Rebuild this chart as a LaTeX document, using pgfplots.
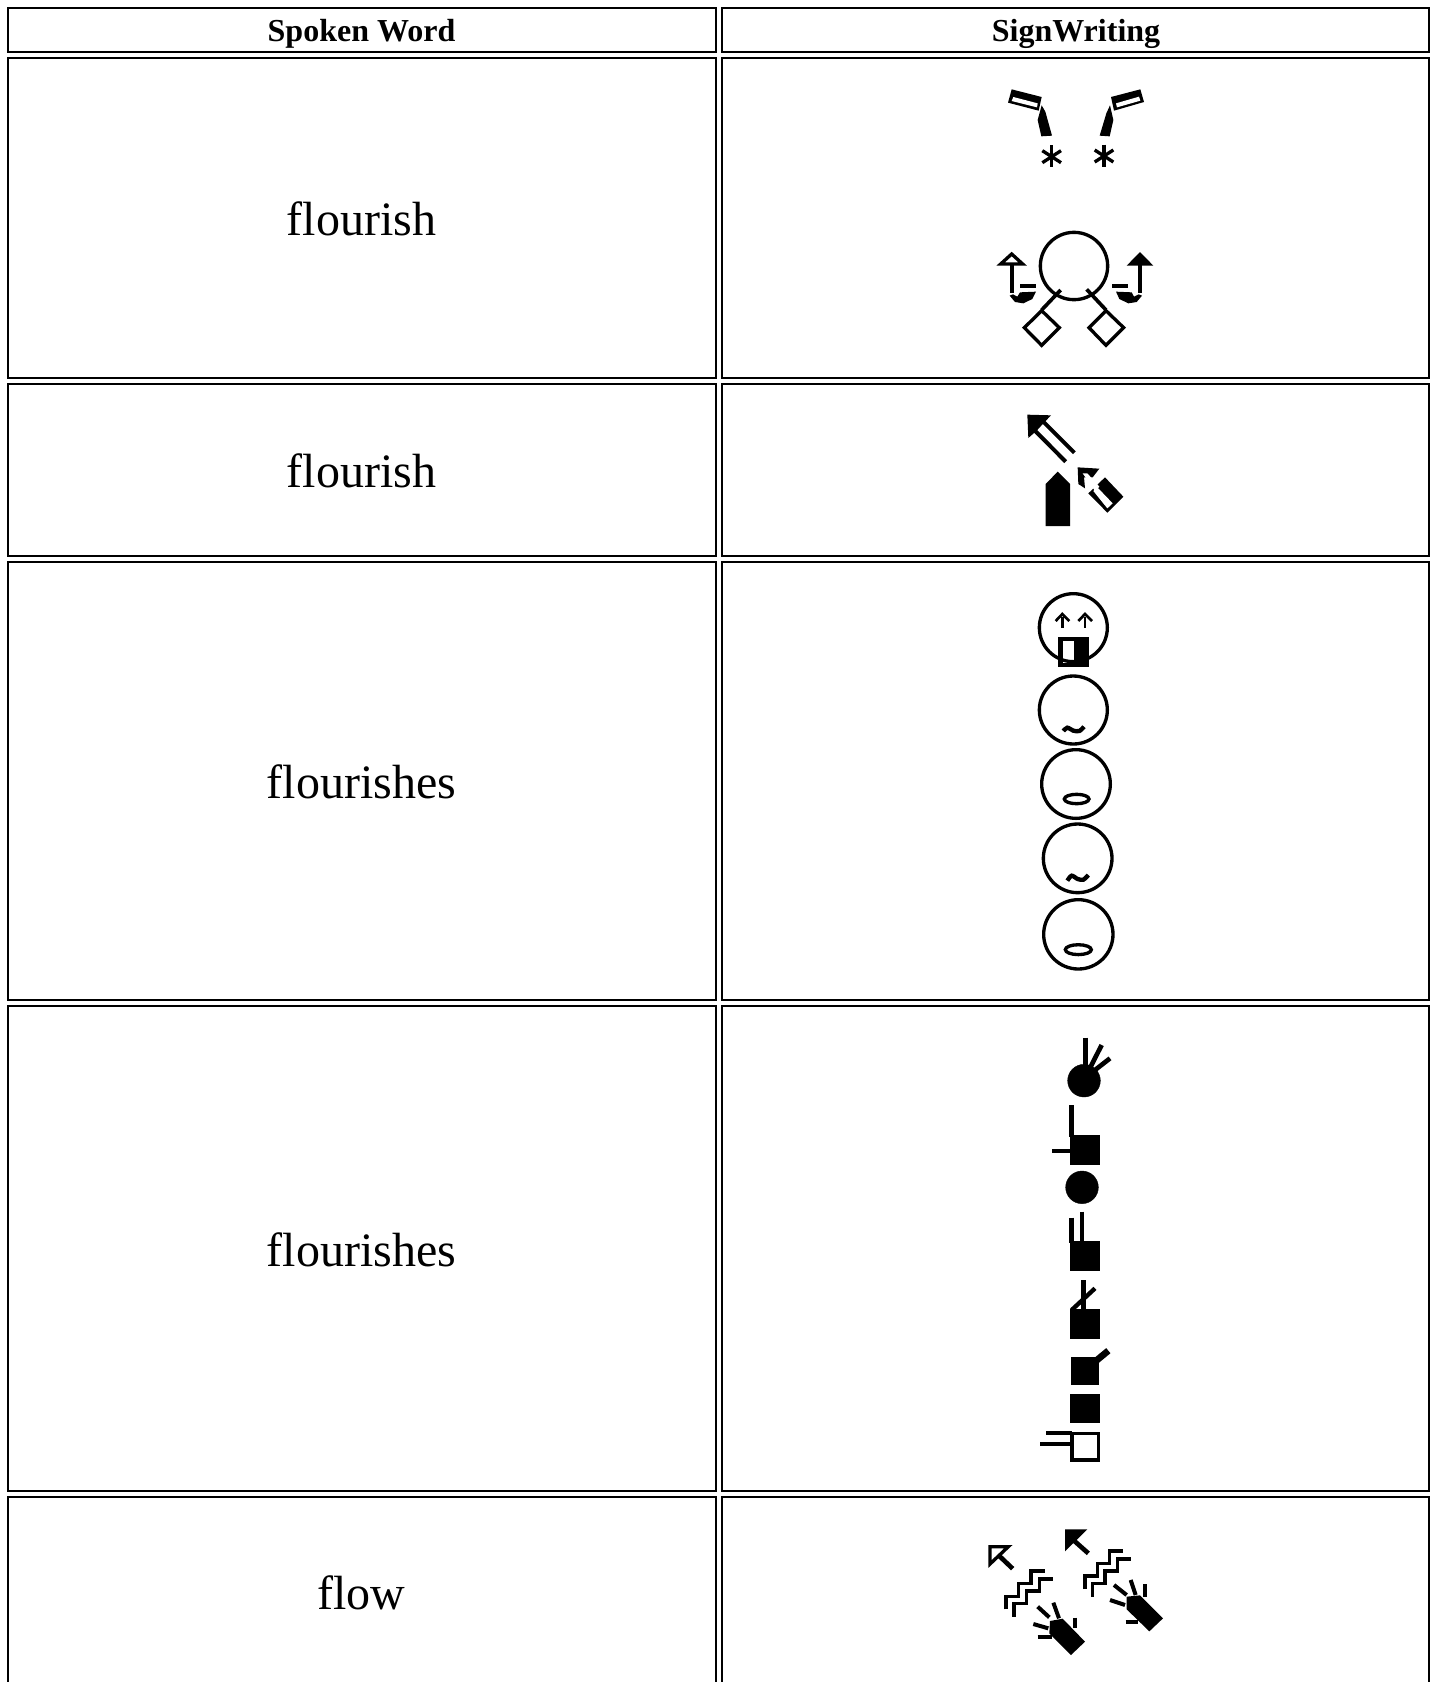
\documentclass[border=0pt]{standalone}
\usepackage{pgfplots}
\pgfplotsset{compat=1.18}
\usepackage{fontspec}
\setmainfont{Liberation Serif}
\def\ox{0}\def\oy{0}
\pgfplotsset{zz/.style={x filter/.expression={\ox+x/3},y filter/.expression={\oy+y/3}}}
% all glyph coordinates are read in the zoomed (3x) crop whose origin is \ox,\oy
\newcommand\Off[2]{\def\ox{#1}\def\oy{#2}}
\newcommand\Ln[2]{\addplot[black,line width={(#1+4)/3},line cap=butt,line join=miter,zz] coordinates {#2};}
\newcommand\Sm[2]{\addplot[black,line width={(#1+5)/3},smooth,zz] coordinates {#2};}
\newcommand\Poly[2]{\addplot[fill=#1,draw=none,zz] coordinates {#2} --cycle;}
\newcommand\Out[3]{\addplot[fill=#1,draw=black,line width={(#2+3)/3},line join=miter,zz] coordinates {#3} --cycle;}
\newcommand\Ring[3]{\addplot[only marks,mark=o,mark size=#3/3,mark options={draw=black,line width=10/3},zz] coordinates {(#1,#2)};}
\newcommand\Disc[3]{\addplot[only marks,mark=*,mark size=#3/3,mark options={fill=black,draw=none},zz] coordinates {(#1,#2)};}
\newcommand\Oval[4]{\addplot[only marks,mark=o,mark size=#3/3,mark options={draw=black,line width=10/3,yscale=#4},zz] coordinates {(#1,#2)};}
\newcommand\Cell[4]{\addplot[black,line width=2.2,line join=miter] coordinates {(#1,#3) (#2,#3) (#2,#4) (#1,#4)} --cycle;}
\begin{document}
\begin{tikzpicture}
\begin{axis}[width=1435pt,height=1682pt,scale only axis,hide axis,
  xmin=0,xmax=1435,ymin=0,ymax=1682,y dir=reverse,clip=true]
\addplot[draw=white,line width=0.1,fill=white] coordinates {(0,0) (1435,0) (1435,1682) (0,1682)} --cycle;
\path (rel axis cs:0,0) (rel axis cs:1,1);
% table
\Cell{8}{716}{8}{52}\Cell{722}{1429}{8}{52}
\Cell{8}{716}{58}{378}\Cell{722}{1429}{58}{378}
\Cell{8}{716}{384}{556}\Cell{722}{1429}{384}{556}
\Cell{8}{716}{562}{1000}\Cell{722}{1429}{562}{1000}
\Cell{8}{716}{1006}{1491}\Cell{722}{1429}{1006}{1491}
\Cell{8}{716}{1497}{1720}\Cell{722}{1429}{1497}{1720}
\node[anchor=base,font=\fontsize{32}{32}\selectfont\bfseries] at (axis cs:361.5,41) {Spoken Word};
\node[anchor=base,font=\fontsize{32}{32}\selectfont\bfseries] at (axis cs:1076,41) {SignWriting};
\node[anchor=base,font=\fontsize{48}{48}\selectfont] at (axis cs:361.5,235) {flourish};
\node[anchor=base,font=\fontsize{48}{48}\selectfont] at (axis cs:361.5,487) {flourish};
\node[anchor=base,font=\fontsize{48}{48}\selectfont] at (axis cs:361.5,798) {flourishes};
\node[anchor=base,font=\fontsize{48}{48}\selectfont] at (axis cs:361.5,1266) {flourishes};
\node[anchor=base,font=\fontsize{48}{48}\selectfont] at (axis cs:361.5,1609) {flow};
% --- row 1
\Off{960}{60}
\Poly{black}{(155,88)(245,111)(236,152)(144,128)}
\Poly{white}{(160,111)(233,130)(231,142)(155,123)}
\Poly{black}{(453,111)(541,88)(552,126)(462,152)}
\Poly{white}{(468,130)(537,110)(541,122)(471,142)}
\Poly{black}{(245,136)(256,155)(276,227)(244,229)(233,180)}
\Poly{black}{(450,136)(439,160)(419,227)(449,229)(460,180)}
\Ln{6}{(275,256)(275,322)}\Ln{6}{(247,272)(303,308)}\Ln{6}{(247,308)(303,272)}
\Ln{6}{(432,254)(432,322)}\Ln{6}{(404,270)(460,306)}\Ln{6}{(404,306)(460,270)}
\Ring{342}{618}{101}
\Out{white}{7}{(155,582)(188,612)(122,612)}
\Ln{8}{(155,612)(155,700)}
\Poly{black}{(180,697)(228,695)(217,717)(190,730)(165,726)(149,707)(159,703)(172,710)}
\Ln{8}{(180,678)(228,678)}
\Poly{black}{(540,576)(580,617)(500,617)}
\Ln{8}{(540,612)(540,700)}
\Poly{black}{(515,697)(468,695)(478,717)(505,730)(530,726)(546,707)(536,703)(522,710)}
\Ln{8}{(457,678)(503,678)}
\Ln{7}{(302,690)(245,750)}
\Ln{7}{(380,688)(438,750)}
\Out{white}{7}{(245,752)(298,803)(245,856)(193,803)}
\Out{white}{7}{(438,752)(491,803)(438,856)(387,803)}
% --- row 2
\Off{980}{390}
\Poly{black}{(142,74)(213,76)(192,98)(170,122)(145,144)}
\Ln{8}{(190,95)(283,188)}
\Ln{8}{(165,122)(257,215)}
\Poly{black}{(233,245)(270,282)(270,408)(197,408)(197,282)}
\Poly{black}{(375,262)(430,320)(382,368)(325,310)}
\Poly{white}{(340,303)(352,292)(398,340)(382,355)}
\Poly{black}{(293,232)(358,236)(338,262)(312,262)(315,295)(295,282)}
\Poly{white}{(308,250)(322,250)(358,290)(345,303)}
% --- row 3
\Off{1010}{585}
\Ring{190}{128}{102}
\Ln{4}{(157,95)(157,130)}\Ln{4}{(137,108)(157,87)(178,108)}
\Ln{4}{(225,95)(225,130)}\Ln{4}{(205,108)(225,87)(246,108)}
\Poly{black}{(145,155)(236,155)(236,247)(145,247)}
\Poly{white}{(158,168)(192,168)(192,233)(158,233)}
\Ring{190}{375}{102}
\Sm{8}{(160,438)(172,428)(190,437)(208,438)(222,425)}
\Off{1010}{785}
\Ring{198}{-3}{103}
\Oval{200}{42}{37}{0.38}
\Ring{203}{220}{103}
\Sm{8}{(172,287)(185,272)(203,282)(220,284)(235,270)}
\Ring{205}{448}{104}
\Oval{205}{494}{39}{0.38}
% --- row 4
\Off{1020}{1025}
\Disc{192}{167}{49}
\Ln{10}{(197,38)(197,125)}\Ln{10}{(245,60)(212,125)}\Ln{10}{(270,100)(225,135)}
\Poly{black}{(150,330)(240,330)(240,420)(150,420)}
\Ln{10}{(155,240)(155,335)}\Ln{10}{(97,378)(155,378)}
\Disc{186}{487}{49}
\Ln{10}{(155,578)(155,655)}\Ln{10}{(186,560)(186,655)}
\Off{1020}{1240}
\Poly{black}{(150,3)(240,3)(240,93)(150,93)}
\Poly{black}{(150,208)(240,208)(240,298)(150,298)}
\Ln{10}{(190,120)(190,210)}\Ln{9}{(225,145)(155,210)}
\Poly{black}{(152,350)(238,350)(238,435)(152,435)}
\Ln{16}{(225,365)(265,332)}
\Poly{black}{(150,462)(240,462)(240,550)(150,550)}
\Out{white}{8}{(155,580)(235,580)(235,660)(155,660)}
\Ln{8}{(78,580)(155,580)}\Ln{8}{(60,612)(155,612)}
% --- row 5
\Off{970}{1520}
\Out{white}{7}{(60,80)(115,80)(60,132)}
\Ln{10}{(85,105)(128,146)}
\Poly{black}{(285,28)(352,28)(285,94)}
\Ln{10}{(310,60)(355,100)}
\Ln{6}{(108,268)(108,230)(145,230)(145,190)(183,190)(183,153)(225,153)}
\Ln{6}{(132,290)(132,250)(170,250)(170,213)(208,213)(208,177)(248,177)}
\Ln{6}{(345,207)(345,168)(382,168)(382,130)(418,130)(418,93)(460,93)}
\Ln{6}{(367,230)(367,190)(405,190)(405,153)(442,153)(442,117)(482,117)}
\Poly{black}{(240,303)(278,296)(345,365)(303,405)(238,340)}
\Ln{8}{(203,260)(238,292)}\Ln{8}{(250,248)(267,295)}\Ln{8}{(315,293)(315,325)}
\Ln{8}{(190,312)(235,325)}\Ln{8}{(203,352)(245,352)}
\Poly{black}{(470,230)(510,226)(579,295)(538,334)(470,268)}
\Ln{8}{(432,195)(470,225)}\Ln{8}{(482,180)(497,225)}\Ln{8}{(525,193)(525,232)}
\Ln{8}{(420,240)(465,255)}\Ln{8}{(467,305)(505,305)}
\end{axis}
\end{tikzpicture}
\end{document}
